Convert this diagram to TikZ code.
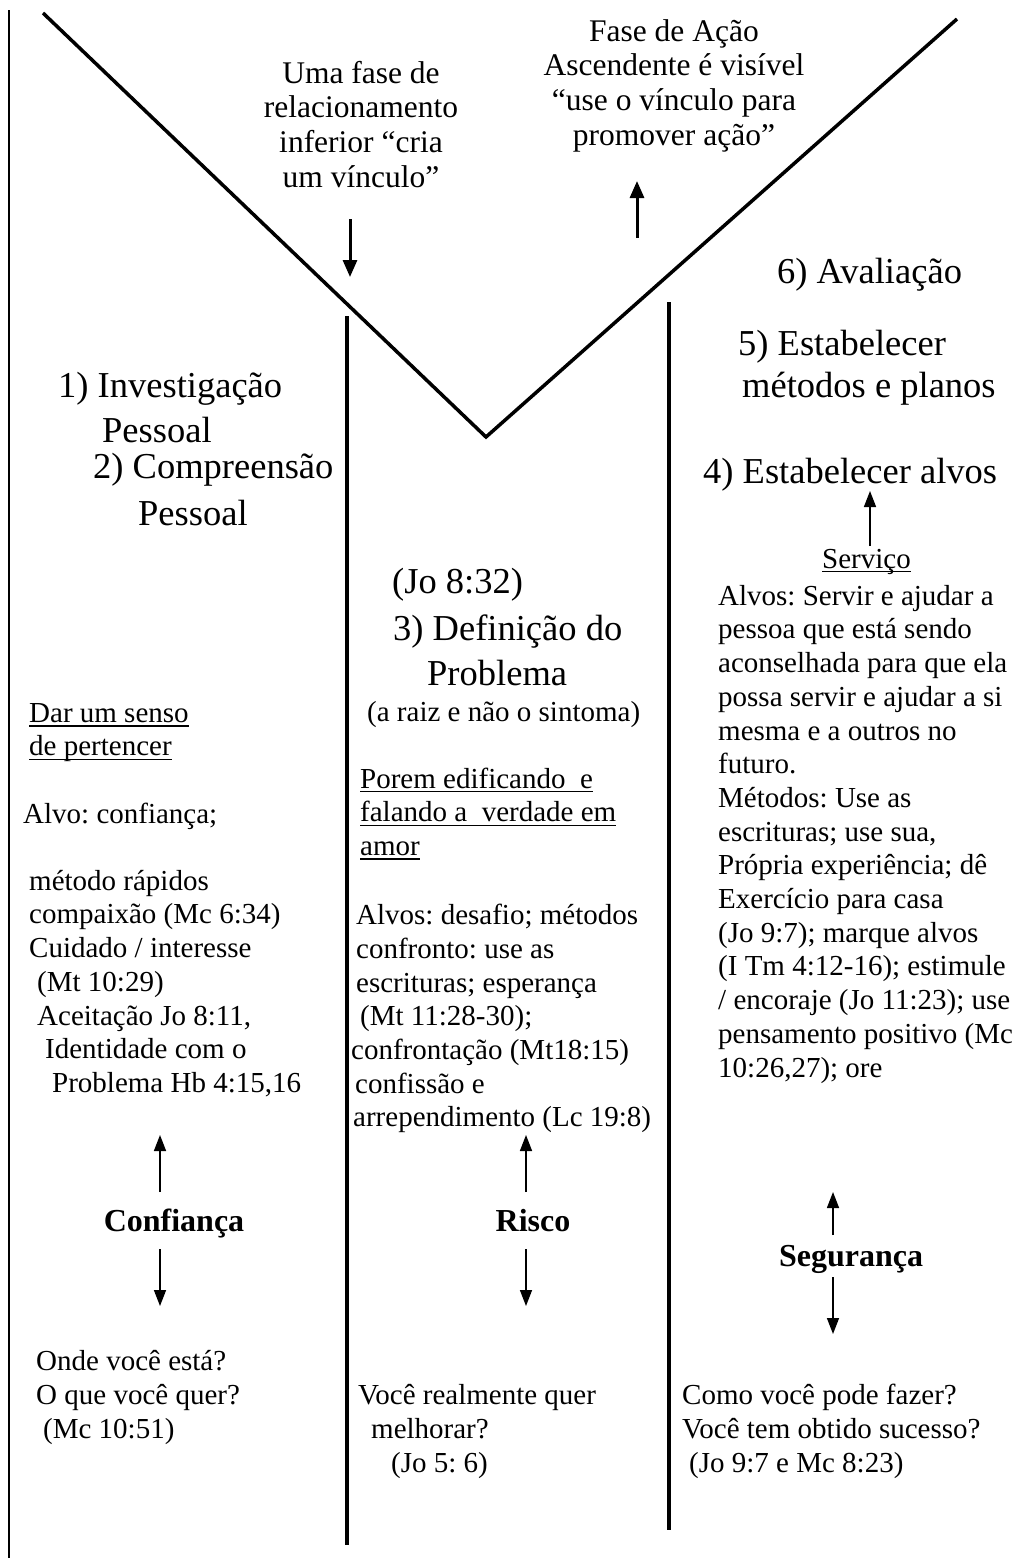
\documentclass[tikz,border=0pt]{standalone}
\usepackage{fontspec}
\setmainfont{Liberation Serif}
\usetikzlibrary{arrows.meta}
\frenchspacing
\newcommand\fbody{\fontsize{29}{33.7}\selectfont\frenchspacing}
\newcommand\fbot{\fontsize{29}{34}\selectfont\frenchspacing}
\newcommand\fhead{\fontsize{36.5}{42}\selectfont\frenchspacing}
\newcommand\ftop{\fontsize{31.5}{34.7}\selectfont\frenchspacing}
\newcommand\flab{\fontsize{32}{36}\selectfont\bfseries}
\newcommand\myul[1]{\setbox0\hbox{#1}\rlap{\rule[-0.15em]{\wd0}{0.05em}}\box0}
\tikzset{
  vline/.style={line width=3.5pt},
  colline/.style={line width=3.5pt},
  thinline/.style={line width=2pt},
  bigarrow/.style={line width=3pt,-{Triangle[length=17pt,width=14pt]}},
  smallarrow/.style={line width=1.5pt,-{Triangle[length=16pt,width=12pt]}},
  toptxt/.style={inner sep=0pt,anchor=north,align=center,font=\ftop},
  head/.style={inner sep=0pt,anchor=base west,font=\fhead},
  bline/.style={inner sep=0pt,anchor=base west,font=\fbody},
  block/.style={inner sep=0pt,anchor=north west,align=left,font=\fbody},
  botblock/.style={inner sep=0pt,anchor=north west,align=left,font=\fbot},
  lab/.style={inner sep=0pt,anchor=base,font=\flab}
}
\begin{document}
\begin{tikzpicture}[x=1pt,y=-1pt]
\useasboundingbox (0,0) rectangle (1033,1564);
% frame lines
\coordinate (Ltop) at (9,10);
\coordinate (Lbot) at (9,1558);
\draw[thinline] (Ltop) -- (Lbot);
\coordinate (Va) at (43,13);
\coordinate (Vb) at (486,437);
\coordinate (Vc) at (957,19);
\draw[vline] (Va) -- (Vb) -- (Vc);
\coordinate (M1t) at (347,316);
\coordinate (M1b) at (347,1545);
\coordinate (M2t) at (669,302);
\coordinate (M2b) at (669,1530);
\draw[colline] (M1t) -- (M1b);
\draw[colline] (M2t) -- (M2b);
% top texts
\node[toptxt] (tl) at (361,58.7) {\strut Uma fase de\\relacionamento\\inferior “cria\\um vínculo”};
\node[toptxt] (tr) at (674,16.7) {\strut Fase de Ação\\Ascendente é visível\\“use o vínculo para\\promover ação”};
\coordinate (a1s) at (350,219);
\coordinate (a1e) at (350,277);
\draw[bigarrow] (a1s) -- (a1e);
\coordinate (a2s) at (637,238);
\coordinate (a2e) at (637,181);
\draw[bigarrow] (a2s) -- (a2e);
% headings
\node[head] (h6) at (777,283) {6) Avaliação};
\node[head] (h5a) at (738,355) {5) Estabelecer};
\node[head] (h5b) at (742,397) {métodos e planos};
\node[head] (h4) at (703,483) {4) Estabelecer alvos};
\node[head] (h1a) at (58,397) {1) Investigação};
\node[head] (h1b) at (102,442) {Pessoal};
\node[head] (h2a) at (93,478) {2) Compreensão};
\node[head] (h2b) at (138,525) {Pessoal};
\node[head] (h3j) at (392,593) {(Jo 8:32)};
\node[head] (h3a) at (393,640) {3) Definição do};
\node[head] (h3b) at (427,685) {Problema};
% arrow to 4)
\coordinate (a4s) at (870,546);
\coordinate (a4e) at (870,491);
\draw[smallarrow] (a4s) -- (a4e);
% body
\node[bline] (raiz) at (367,721) {(a raiz e não o sintoma)};
\node[bline] (serv) at (822,568) {\myul{Serviço}};
\node[bline] (alvo1) at (23,823) {Alvo: confiança;};
\node[block] (dar) at (29,698.4) {\strut\myul{Dar um senso}\\\myul{de pertencer}};
\node[block] (met1) at (29,866.4) {\strut método rápidos\\compaixão (Mc 6:34)\\Cuidado / interesse\\\hspace*{8pt}(Mt 10:29)\\\hspace*{8pt}Aceitação Jo 8:11,\\\hspace*{16pt}Identidade com o\\\hspace*{23pt}Problema Hb 4:15,16};
\node[block] (por) at (360,764.3) {\strut\myul{Porem edificando~ e}\\\myul{falando a~ verdade em}\\\myul{amor}};
\node[block] (met2) at (351,900.9) {\strut\hspace*{5pt}Alvos: desafio; métodos\\\hspace*{5pt}confronto: use as\\\hspace*{5pt}escrituras; esperança\\\hspace*{9pt}(Mt 11:28-30);\\confrontação (Mt18:15)\\\hspace*{4pt}confissão e\\\hspace*{2pt}arrependimento (Lc 19:8)};
\node[block] (met3) at (718,581.4) {\strut Alvos: Servir e ajudar a\\pessoa que está sendo\\aconselhada para que ela\\possa servir e ajudar a si\\mesma e a outros no\\futuro.\\Métodos: Use as\\escrituras; use sua,\\Própria experiência; dê\\Exercício para casa\\(Jo 9:7); marque alvos\\(I Tm 4:12-16); estimule\\/ encoraje (Jo 11:23); use\\pensamento positivo (Mc\\10:26,27); ore};
% labels
\node[lab] (conf) at (174,1231) {Confiança};
\node[lab] (risco) at (533,1231) {Risco};
\node[lab] (seg) at (851,1266) {Segurança};
\coordinate (c1s) at (160,1192);
\coordinate (c1e) at (160,1135);
\coordinate (c2s) at (160,1249);
\coordinate (c2e) at (160,1306);
\draw[smallarrow] (c1s) -- (c1e);
\draw[smallarrow] (c2s) -- (c2e);
\coordinate (r1s) at (526,1192);
\coordinate (r1e) at (526,1135);
\coordinate (r2s) at (526,1249);
\coordinate (r2e) at (526,1306);
\draw[smallarrow] (r1s) -- (r1e);
\draw[smallarrow] (r2s) -- (r2e);
\coordinate (s1s) at (833,1235);
\coordinate (s1e) at (833,1192);
\coordinate (s2s) at (833,1277);
\coordinate (s2e) at (833,1334);
\draw[smallarrow] (s1s) -- (s1e);
\draw[smallarrow] (s2s) -- (s2e);
% bottom
\node[botblock] (bl) at (36,1346.2) {\strut Onde você está?\\O que você quer?\\\hspace*{7pt}(Mc 10:51)};
\node[botblock] (bm) at (358,1380.2) {\strut Você realmente quer\\\hspace*{13pt}melhorar?\\\hspace*{33pt}(Jo 5: 6)};
\node[botblock] (br) at (682,1380.2) {\strut Como você pode fazer?\\Você tem obtido sucesso?\\\hspace*{7pt}(Jo 9:7 e Mc 8:23)};
\end{tikzpicture}
\end{document}
